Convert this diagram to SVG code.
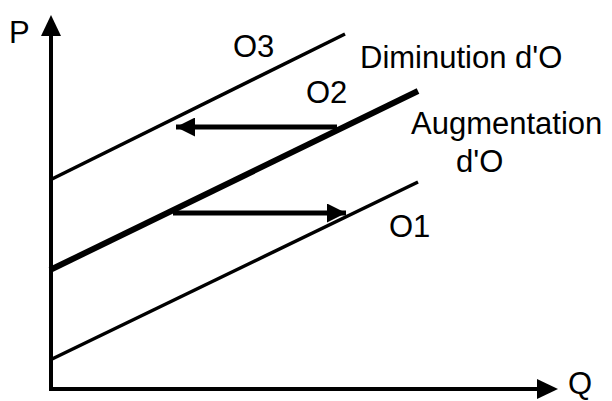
<svg xmlns="http://www.w3.org/2000/svg" width="612" height="401" viewBox="0 0 612 401">
<style>
text{font-family:"Liberation Sans",Arial,sans-serif;font-size:31px;fill:#000}
.ax{stroke:#000;stroke-width:4;fill:none}
.sup{stroke:#000;stroke-width:3.5;fill:none}
.thick{stroke:#000;stroke-width:6;fill:none}
.arr{stroke:#000;stroke-width:5;fill:none}
</style>
<defs>
<marker id="ah" viewBox="0 0 10 10" refX="10" refY="5" markerUnits="userSpaceOnUse" markerWidth="20" markerHeight="19" orient="auto">
<path d="M0,0 L10,5 L0,10 Z" fill="#000"/>
</marker>
</defs>
<rect width="612" height="401" fill="#fff"/>
<g id="axes">
<polyline class="ax" points="51,36 51,389 538,389"/>
<path d="M41,36 L51,15 L61,36 Z" fill="#000"/>
<path d="M537,379 L558,389 L537,399 Z" fill="#000"/>
<text x="9" y="43">P</text>
<text x="568" y="394">Q</text>
</g>
<g id="O3">
<line class="sup" x1="50" y1="180" x2="345" y2="34"/>
<text x="233" y="57">O3</text>
</g>
<g id="O2">
<line class="thick" x1="50" y1="270" x2="418" y2="91"/>
<text x="306" y="103">O2</text>
</g>
<g id="O1">
<line class="sup" x1="50" y1="360" x2="418" y2="182"/>
<text x="389" y="237">O1</text>
</g>
<g id="connectors">
<line class="arr" x1="337" y1="127" x2="176" y2="127" marker-end="url(#ah)"/>
<line class="arr" x1="173" y1="213" x2="346" y2="213" marker-end="url(#ah)"/>
</g>
<g id="labels">
<text x="360" y="68">Diminution d'O</text>
<text x="411" y="134">Augmentation</text>
<text x="456" y="172">d'O</text>
</g>
</svg>
